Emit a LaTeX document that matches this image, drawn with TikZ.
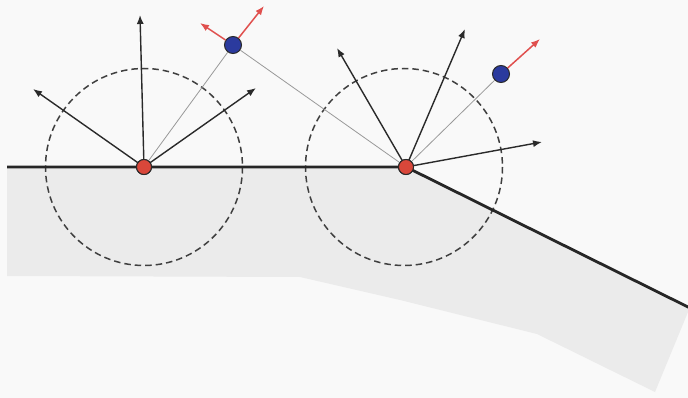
\documentclass[tikz,border=0pt]{standalone}
\usetikzlibrary{arrows.meta}
\definecolor{bgc}{HTML}{F9F9F9}
\definecolor{regionc}{HTML}{EBEBEB}
\definecolor{dotred}{HTML}{D9473A}
\definecolor{dotblue}{HTML}{2B3A9E}
\definecolor{arrred}{HTML}{E0504E}
\definecolor{darkline}{HTML}{2A2A2A}
\tikzset{
  reddot/.style={circle,draw=darkline,line width=1pt,fill=dotred,minimum size=15pt,inner sep=0pt},
  bluedot/.style={circle,draw=darkline,line width=1pt,fill=dotblue,minimum size=17pt,inner sep=0pt},
  ray/.style={draw=darkline,line width=1.4pt,-{Latex[length=9pt,width=7pt]}},
  redray/.style={draw=arrred,line width=1.5pt,-{Latex[length=9pt,width=7pt]}},
  thin/.style={draw=gray!80,line width=0.8pt},
  surf/.style={draw=black!85,line width=2.8pt},
  dcirc/.style={draw=darkline!90,line width=1.5pt,dash pattern=on 6.5pt off 4pt}
}
\begin{document}
\begin{tikzpicture}[x=1pt,y=-1pt]
\fill[bgc] (0,0) rectangle (688,398);
\useasboundingbox (0,0) rectangle (688,398);
% gray region
\fill[regionc] (7,167) -- (406,167) -- (688,307) -- (688,312) -- (655,392) -- (537,334) -- (400,300) -- (300,277) -- (7,276) -- cycle;
% dashed circles
\draw[dcirc] (144,167) circle (98.5);
\draw[dcirc] (404,167) circle (98.5);
% coordinates
\coordinate (a1) at (140,15);
\coordinate (a2) at (33,89);
\coordinate (a3) at (256,88);
\coordinate (b1) at (337,48);
\coordinate (b2) at (465,29);
\coordinate (b3) at (542,142);
\coordinate (l0) at (7,167);
\coordinate (l1) at (690,308);
\coordinate (r1) at (200,23);
\coordinate (r2) at (264,6);
\coordinate (r3) at (540,39);
% dots
\node[reddot] (p1) at (144,167) {};
\node[reddot] (p2) at (406,167) {};
\node[bluedot] (q1) at (233,45) {};
\node[bluedot] (q2) at (501,74) {};
% surface
\draw[surf] (l0) -- (p2.center) -- (l1);
% thin lines
\draw[thin] (p1.center) -- (q1);
\draw[thin] (q1) -- (p2.center);
\draw[thin] (p2.center) -- (q2);
% rays
\draw[ray] (p1.center) -- (a1);
\draw[ray] (p1.center) -- (a2);
\draw[ray] (p1.center) -- (a3);
\draw[ray] (p2.center) -- (b1);
\draw[ray] (p2.center) -- (b2);
\draw[ray] (p2.center) -- (b3);
\draw[redray] (q1) -- (r1);
\draw[redray] (q1) -- (r2);
\draw[redray] (q2) -- (r3);
% redraw dots on top
\node[reddot] at (p1) {};
\node[reddot] at (p2) {};
\end{tikzpicture}
\end{document}
